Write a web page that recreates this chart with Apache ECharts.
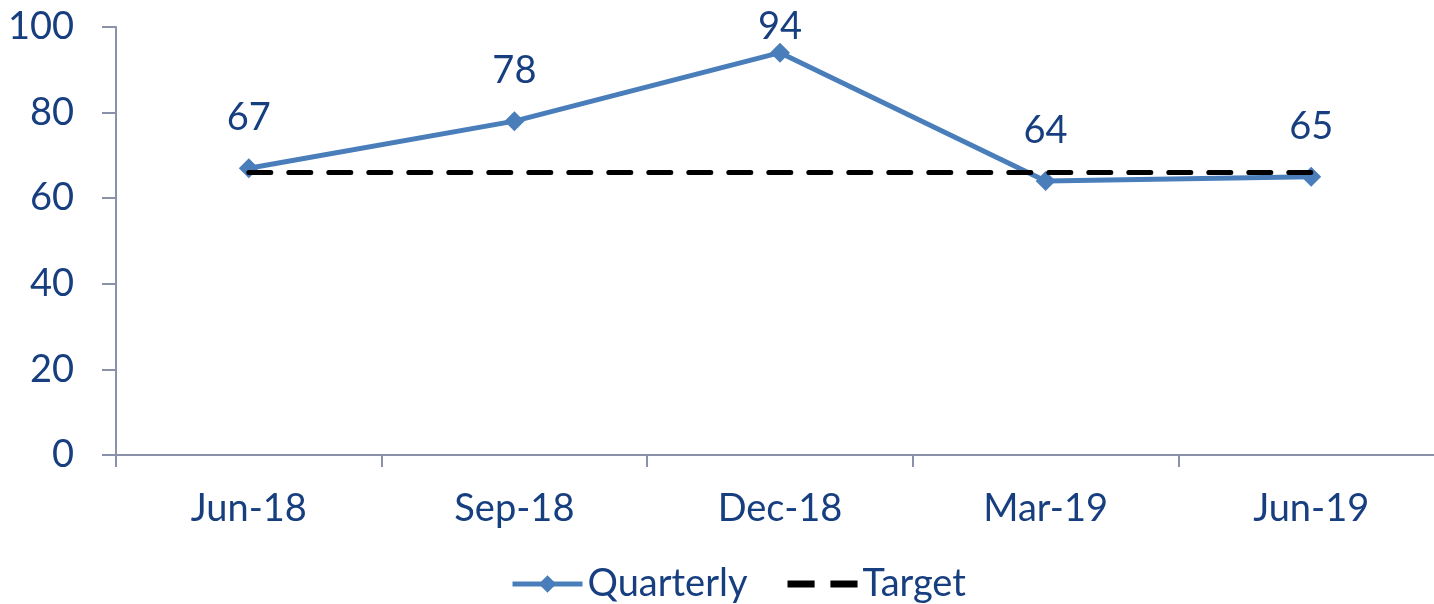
<!DOCTYPE html>
<html>
<head>
<meta charset="utf-8">
<script src="https://cdn.jsdelivr.net/npm/echarts@6/dist/echarts.min.js"></script>
<style>
  html,body{margin:0;padding:0;background:#fff;}
  #chart{width:1434px;height:604px;}
</style>
</head>
<body>
<div id="chart"></div>
<script>
const categories = ["Jun-18","Sep-18","Dec-18","Mar-19","Jun-19"];
const quarterly = [67, 78, 94, 64, 65];
const target = [66, 66, 66, 66, 66];

const TEXT = "#173f80", AXIS = "#8a91a9", BLUE = "#4a7ebb";
const FONT = "Lato";

// labels near the top get pulled down inside the chart, like the original
const quarterlyData = quarterly.map(v => v > 90 ? {value:v, label:{distance:-3}} : v);

const chart = echarts.init(document.getElementById("chart"));
chart.setOption({
  backgroundColor:"#fff",
  animation:false,
  textStyle:{fontFamily:FONT},
  // plot runs a little past the right edge in the original
  grid:{left:116,top:27,width:1328,height:428,outerBoundsMode:"none",containLabel:false},
  legend:{
    bottom:-4, left:505, itemGap:40, itemWidth:70, itemHeight:22,
    lineStyle:{width:5},
    textStyle:{color:TEXT,fontSize:38,fontFamily:FONT},
    data:[
      {name:"Quarterly"},
      {name:"Target", icon:"path://M0,0h24v6h-24z M38,0h24v6h-24z", itemStyle:{color:"#000"}}
    ]
  },
  xAxis:{
    type:"category", data:categories, boundaryGap:true,
    axisLine:{lineStyle:{color:AXIS,width:2}},
    axisTick:{show:true,length:12,lineStyle:{color:AXIS,width:2}},
    axisLabel:{color:TEXT,fontSize:38,fontFamily:FONT,margin:35}
  },
  yAxis:{
    type:"value", min:0, max:100, interval:20,
    axisLine:{show:true,lineStyle:{color:AXIS,width:2}},
    axisTick:{show:true,length:14,lineStyle:{color:AXIS,width:2}},
    axisLabel:{color:TEXT,fontSize:38,fontFamily:FONT,margin:42},
    splitLine:{show:false}
  },
  series:[
    {
      name:"Quarterly", type:"line", data:quarterlyData, z:3,
      symbol:"diamond", symbolSize:20,
      lineStyle:{color:BLUE,width:5},
      itemStyle:{color:BLUE},
      label:{show:true,position:"top",distance:21,color:TEXT,fontSize:38,fontFamily:FONT}
    },
    {
      name:"Target", type:"line", data:target, z:4,
      symbol:"none",
      lineStyle:{color:"#000",width:5,type:[22,18],cap:"round"},
      itemStyle:{color:"#000"}
    }
  ]
});
</script>
</body>
</html>
